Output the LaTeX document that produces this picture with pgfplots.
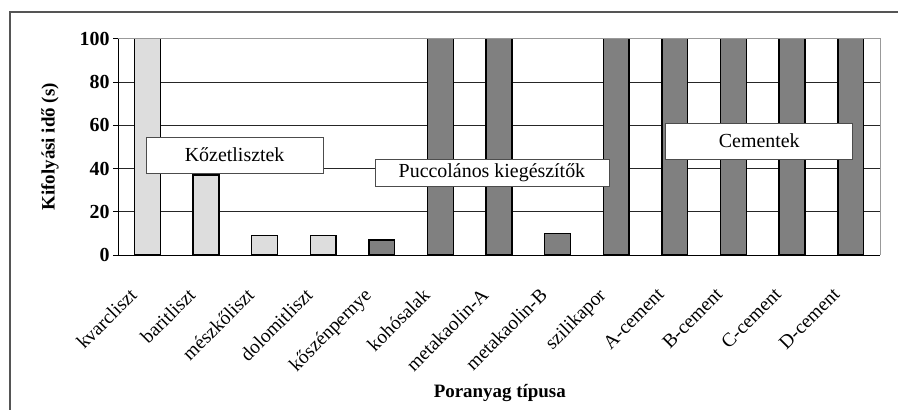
\documentclass[border=0pt]{standalone}
\usepackage{pgfplots}
\pgfplotsset{compat=1.18}
\usepackage{fontspec}
\setmainfont{Liberation Serif}
\definecolor{lightbar}{HTML}{DDDDDD}
\definecolor{darkbar}{HTML}{808080}
\definecolor{framegray}{HTML}{555555}
\begin{document}
\begin{tikzpicture}
\draw[framegray, line width=1.2bp] (10bp,-5bp) -- (10bp,398bp) -- (905bp,398bp);
\begin{axis}[
  at={(118bp,155bp)}, anchor=south west,
  width=762bp, height=216.3bp, scale only axis,
  xmin=-0.5, xmax=12.5, ymin=0, ymax=100,
  axis lines=left, axis line style={-, line width=1bp, black},
  ybar, bar width=0.44, bar shift=0,
  ytick={0,20,40,60,80,100},
  ymajorgrids, grid style={line width=0.9bp, black!85},
  tick align=outside, major tick length=5bp,
  tick style={line width=0.9bp, black},
  xtick={0,...,12},
  xticklabels={kvarcliszt,baritliszt,mészkőliszt,dolomitliszt,kőszénpernye,kohósalak,metakaolin-A,metakaolin-B,szilikapor,A-cement,B-cement,C-cement,D-cement},
  x tick style={draw=none},
  extra x ticks={-0.5,0.5,...,12.5},
  extra x tick labels={},
  extra x tick style={grid=none, tick style={draw=black, line width=0.9bp}},
  xticklabel style={font=\fontsize{19.5}{21}\selectfont, xshift=-19bp, yshift=-22bp, rotate=45, anchor=north east},
  yticklabel style={font=\fontsize{20}{22}\selectfont\bfseries},
  /pgf/number format/assume math mode=true,
  ylabel={Kifolyási idő (s)},
  ylabel style={font=\fontsize{19}{21}\selectfont\bfseries, at={(axis description cs:-0.0892,0.5)}, anchor=center},
  xlabel={Poranyag típusa},
  xlabel style={font=\fontsize{19}{21}\selectfont\bfseries, at={(axis description cs:0.501,-0.637)}, anchor=center},
  clip=false,
]
\addplot[fill=lightbar, draw=black, line width=1.4bp] coordinates {(0,100) (1,37) (2,9) (3,9)};
\addplot[fill=darkbar, draw=black, line width=1.4bp] coordinates {(4,7) (5,100) (6,100) (7,10) (8,100) (9,100) (10,100) (11,100) (12,100)};
\draw[gray!80, line width=1bp] (rel axis cs:0,1) -- (rel axis cs:1,1) -- (rel axis cs:1,0);
\node[draw=black!70, fill=white, line width=0.8bp, minimum width=177bp, minimum height=36bp, inner sep=0pt, font=\fontsize{20}{22}\selectfont] at (axis cs:1.49,46.2) {Kőzetlisztek};
\node[draw=black!70, fill=white, line width=0.8bp, minimum width=234bp, minimum height=27bp, inner sep=0pt, font=\fontsize{20}{22}\selectfont] at (axis cs:5.88,38.1) {Puccolános kiegészítők};
\node[draw=black!70, fill=white, line width=0.8bp, minimum width=187bp, minimum height=36bp, inner sep=0pt, font=\fontsize{20}{22}\selectfont] at (axis cs:10.44,52.7) {Cementek};
\end{axis}
\pgfresetboundingbox
\path[use as bounding box] (0bp,0bp) rectangle (898bp,410bp);
\end{tikzpicture}
\end{document}
